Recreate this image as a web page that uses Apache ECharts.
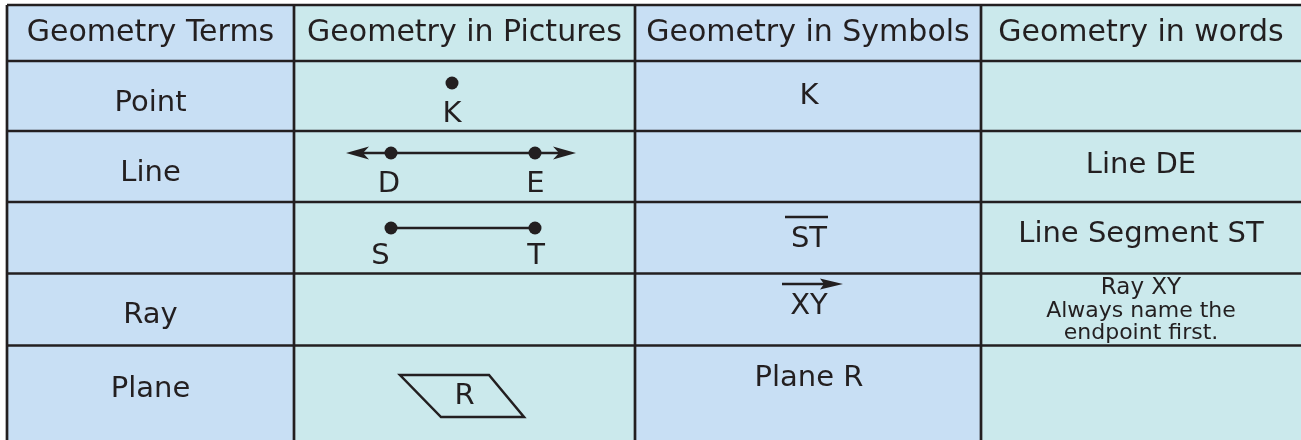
<!DOCTYPE html>
<html>
<head>
<meta charset="utf-8">
<title>Geometry Terms</title>
<script src="https://cdn.jsdelivr.net/npm/echarts@6.0.0/dist/echarts.min.js"></script>
<style>
    html, body { margin: 0; padding: 0; background: #fff; }
    #chart { width: 1301px; height: 440px; }
</style>
</head>
<body>
<div id="chart"></div>
<script>
// table contents
var headers = ['Geometry Terms', 'Geometry in Pictures', 'Geometry in Symbols', 'Geometry in words'];
var terms = ['Point', 'Line', '', 'Ray', 'Plane'];
var pictures = ['point', 'line', 'segment', '', 'plane'];
var pictureLabels = [['K'], ['D', 'E'], ['S', 'T'], [], ['R']];
var symbols = ['K', '', 'ST', 'XY', 'Plane R'];
var symbolMarks = ['', '', 'bar', 'ray', ''];
var words = [[], ['Line DE'], ['Line Segment ST'], ['Ray XY', 'Always name the', 'endpoint first.'], []];

// layout (px units on the hidden axes); the table runs off the right and bottom edges
var colWidths = [287, 341, 346, 320];
var rowHeights = [56, 70, 71, 71.5, 72, 94.5];
var termOffsets = [42, 42, 42, 42, 44];
var symbolOffsets = [35.7, 35, 37.5, 32.5, 32.5];
var wordOffsets = [34, 34.5, 32.5, 15, 34];

var FONT = 'DejaVu Sans';
var INK = '#231f20';
var colFills = ['#c8dff4', '#cbe9ec', '#c8dff4', '#cbe9ec'];

function edges(sizes) {
    var out = [0];
    for (var i = 0; i < sizes.length; i++) {
        out.push(out[i] + sizes[i]);
    }
    return out;
}
var colEdges = edges(colWidths);
var rowEdges = edges(rowHeights);
var totalW = colEdges[colEdges.length - 1];
var totalH = rowEdges[rowEdges.length - 1];

function txt(t, x, y, size) {
    return {
        type: 'text',
        style: {
            text: t, x: x, y: y,
            align: 'center', verticalAlign: 'middle',
            fontSize: size, fontFamily: FONT, fill: INK
        }
    };
}

// cells
var cellData = [];
for (var r = 0; r < rowHeights.length; r++) {
    for (var c = 0; c < colWidths.length; c++) {
        cellData.push([c, r]);
    }
}

function renderCell(params, api) {
    var c = api.value(0), r = api.value(1);
    var p0 = api.coord([colEdges[c], rowEdges[r]]);
    var p1 = api.coord([colEdges[c + 1], rowEdges[r + 1]]);
    return {
        type: 'rect',
        shape: { x: p0[0], y: p0[1], width: p1[0] - p0[0], height: p1[1] - p0[1] },
        style: { fill: colFills[c] }
    };
}

// rule lines (outer right / bottom edges are cut off in the picture)
var ruleData = [];
for (var i = 0; i < colEdges.length - 1; i++) { ruleData.push([0, i]); }
for (var j = 0; j < rowEdges.length - 1; j++) { ruleData.push([1, j]); }

function renderRule(params, api) {
    var dir = api.value(0), i = api.value(1);
    var a, b;
    if (dir === 0) {
        a = api.coord([colEdges[i], 0]);
        b = api.coord([colEdges[i], totalH]);
    } else {
        a = api.coord([0, rowEdges[i]]);
        b = api.coord([totalW, rowEdges[i]]);
    }
    return {
        type: 'line',
        shape: { x1: a[0], y1: a[1], x2: b[0], y2: b[1] },
        style: { stroke: INK, lineWidth: 2.7 }
    };
}

// texts
var textData = [];
headers.forEach(function (h, c) { textData.push([c, 0]); });
for (var i = 0; i < terms.length; i++) {
    textData.push([0, i + 1]);
    textData.push([2, i + 1]);
    textData.push([3, i + 1]);
}

function renderText(params, api) {
    var c = api.value(0), r = api.value(1);
    var cx = api.coord([(colEdges[c] + colEdges[c + 1]) / 2, rowEdges[r]])[0];
    var top = api.coord([0, rowEdges[r]])[1];
    var children = [];
    if (r === 0) {
        children.push(txt(headers[c], cx, top + 28.5, 30));
    } else if (c === 0) {
        children.push(txt(terms[r - 1], cx, top + termOffsets[r - 1], 29));
    } else if (c === 2) {
        var s = symbols[r - 1];
        var y = top + symbolOffsets[r - 1];
        children.push(txt(s, cx + 1, y, 29));
        var mark = symbolMarks[r - 1];
        if (mark === 'bar') {
            children.push({ type: 'line', shape: { x1: cx - 23, y1: top + 15, x2: cx + 20, y2: top + 15 },
                style: { stroke: INK, lineWidth: 2.5 } });
        } else if (mark === 'ray') {
            var ay = top + 10.5;
            children.push({ type: 'line', shape: { x1: cx - 26, y1: ay, x2: cx + 20, y2: ay },
                style: { stroke: INK, lineWidth: 2.7 } });
            children.push({ type: 'polygon',
                shape: { points: [[cx + 35, ay], [cx + 12, ay - 5.5], [cx + 16, ay], [cx + 12, ay + 5.5]] },
                style: { fill: INK } });
        }
    } else if (c === 3) {
        var lines = words[r - 1];
        if (lines.length === 1) {
            children.push(txt(lines[0], cx, top + wordOffsets[r - 1], 29));
        } else {
            lines.forEach(function (t, k) {
                children.push(txt(t, cx, top + wordOffsets[r - 1] + k * 22.5, k === 0 ? 23 : 22));
            });
        }
    }
    return { type: 'group', children: children };
}

// pictures
var pictureData = [];
pictures.forEach(function (p, i) { if (p) { pictureData.push([1, i + 1]); } });

function renderPicture(params, api) {
    var r = api.value(1);
    var kind = pictures[r - 1];
    var labels = pictureLabels[r - 1];
    var o = api.coord([colEdges[1], rowEdges[r]]);
    var ch = [];
    function dot(x, y) {
        ch.push({ type: 'circle', shape: { cx: o[0] + x, cy: o[1] + y, r: 6.5 }, style: { fill: INK } });
    }
    function seg(x1, x2, y) {
        ch.push({ type: 'line', shape: { x1: o[0] + x1, y1: o[1] + y, x2: o[0] + x2, y2: o[1] + y },
            style: { stroke: INK, lineWidth: 2.5 } });
    }
    function head(tx, y, d) {
        var x = o[0] + tx, yy = o[1] + y;
        ch.push({ type: 'polygon',
            shape: { points: [[x, yy], [x + d * 23, yy - 6.5], [x + d * 17, yy], [x + d * 23, yy + 6.5]] },
            style: { fill: INK } });
    }
    function label(t, x, y) { ch.push(txt(t, o[0] + x, o[1] + y, 29)); }

    if (kind === 'point') {
        dot(158, 22);
        label(labels[0], 158, 53.5);
    } else if (kind === 'line') {
        seg(60, 274, 22);
        head(52, 22, 1);
        head(282, 22, -1);
        dot(97, 22);
        dot(241, 22);
        label(labels[0], 95, 53);
        label(labels[1], 241.5, 53);
    } else if (kind === 'segment') {
        seg(97, 241, 26);
        dot(97, 26);
        dot(241, 26);
        label(labels[0], 86.5, 54);
        label(labels[1], 242, 54);
    } else if (kind === 'plane') {
        ch.push({ type: 'polygon',
            shape: { points: [[o[0] + 106, o[1] + 29.5], [o[0] + 195, o[1] + 29.5], [o[0] + 230, o[1] + 71.5], [o[0] + 147, o[1] + 71.5]] },
            style: { fill: 'none', stroke: INK, lineWidth: 2.5, lineJoin: 'miter' } });
        label(labels[0], 170.5, 51);
    }
    return { type: 'group', children: ch };
}

var chart = echarts.init(document.getElementById('chart'), null, { renderer: 'canvas' });
chart.setOption({
    animation: false,
    backgroundColor: '#ffffff',
    grid: { left: 7, top: 5, right: 0, bottom: 0 },
    xAxis: { type: 'value', min: 0, max: totalW, show: false },
    yAxis: { type: 'value', min: 0, max: totalH, inverse: true, show: false },
    series: [
        { type: 'custom', name: 'cells', renderItem: renderCell, data: cellData, clip: false, silent: true, z: 1 },
        { type: 'custom', name: 'pictures', renderItem: renderPicture, data: pictureData, clip: false, silent: true, z: 2 },
        { type: 'custom', name: 'texts', renderItem: renderText, data: textData, clip: false, silent: true, z: 3 },
        { type: 'custom', name: 'rules', renderItem: renderRule, data: ruleData, clip: false, silent: true, z: 4 }
    ]
});
</script>
</body>
</html>
